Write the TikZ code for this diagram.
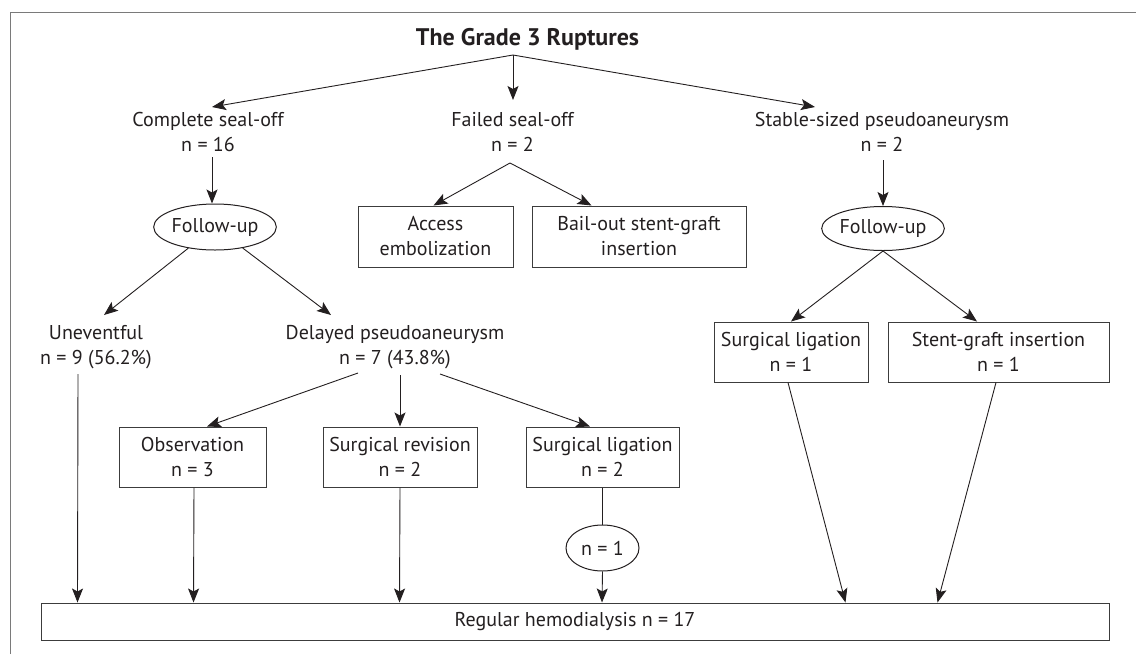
\documentclass[tikz,border=0pt]{standalone}
\usepackage{fontspec}
\setmainfont{PT Sans}
\usetikzlibrary{arrows.meta,calc,shapes.geometric}
\definecolor{txtcol}{HTML}{231F20}
\definecolor{linecol}{HTML}{231F20}
\definecolor{boxcol}{HTML}{3C3C3C}
\definecolor{framecol}{HTML}{7A7A7A}
\begin{document}
\begin{tikzpicture}[x=1pt,y=-1pt,
  font=\fontsize{20}{25}\selectfont,
  every node/.style={text=txtcol},
  box/.style={draw=boxcol,line width=1pt,rectangle,inner sep=0pt,align=center},
  oval/.style={draw=linecol,line width=1pt,ellipse,inner sep=0pt},
  lbl/.style={inner sep=0pt,align=center},
  conn/.style={draw=linecol,line width=0.9pt},
  arr/.style={conn,-{Stealth[length=14pt,width=11pt,inset=3pt]}}
]
\useasboundingbox (0,0) rectangle (1136,654);
% frame
\draw[framecol,line width=1.2pt] (10.5,654) -- (10.5,12.5) -- (1136,12.5);

% nodes
\node[font=\fontsize{24}{25}\selectfont\bfseries] (title) at (527.5,39) {The Grade 3 Ruptures};
\coordinate (root) at (513,55);
\node[lbl] (cso) at (208,132) {Complete seal-off\\n = 16};
\node[lbl] (fso) at (512.5,132) {Failed seal-off\\n = 2};
\node[lbl] (ssp) at (882,132) {Stable-sized pseudoaneurysm\\n = 2};
\node[oval,minimum width=116pt,minimum height=46pt] (fu1) at (215,227) {Follow-up};
\node[box,minimum width=155pt,minimum height=61pt] (ae) at (435.5,236.5) {Access\\embolization};
\node[box,minimum width=214pt,minimum height=61pt] (bo) at (639,236.5) {Bail-out stent-graft\\insertion};
\node[oval,minimum width=118pt,minimum height=44pt] (fu2) at (883,228.5) {Follow-up};
\node[lbl] (unev) at (96,347.5) {Uneventful\\n = 9 (56.2\%)};
\node[lbl] (dp) at (395,347.5) {Delayed pseudoaneurysm\\n = 7 (43.8\%)};
\node[box,minimum width=154pt,minimum height=60pt] (sl2) at (791,352) {Surgical ligation\\n = 1};
\node[box,minimum width=221pt,minimum height=60pt] (sg) at (998.5,352) {Stent-graft insertion\\n = 1};
\node[box,minimum width=147pt,minimum height=60pt] (obs) at (192.5,457) {Observation\\n = 3};
\node[box,minimum width=154pt,minimum height=60pt] (sr) at (400,457) {Surgical revision\\n = 2};
\node[box,minimum width=153pt,minimum height=60pt] (sl1) at (602.5,457) {Surgical ligation\\n = 2};
\node[oval,minimum width=73pt,minimum height=46pt] (n1) at (602.5,548) {n = 1};
\node[box,minimum width=1068pt,minimum height=37pt] (reg) at (575,621.5) {Regular hemodialysis n = 17};

% connectors
\draw[arr] (root) -- ($(cso)+(4,-25)$);
\draw[arr] (root) -- ($(fso)+(0.5,-32)$);
\draw[arr] (root) -- ($(ssp)+(-67,-25)$);
\draw[arr] ($(cso)+(4,25)$) -- ($(fu1.north)+(-3,0)$);
\draw[arr] ($(fso)+(-2.5,31)$) -- ($(ae.north)+(-2,0)$);
\draw[arr] ($(fso)+(-2.5,31)$) -- ($(bo.north west)+(60,0)$);
\draw[arr] ($(ssp)+(1,28)$) -- (fu2.north);
\draw[arr] (fu1) -- ($(unev)+(8,-32.5)$);
\draw[arr] (fu1) -- ($(dp)+(-64,-32.5)$);
\draw[arr] (fu2.south) -- (sl2.north);
\draw[arr] (fu2.south) -- ($(sg.north)+(-21.5,0)$);
\draw[arr] ($(dp)+(-37,25.5)$) -- ($(obs.north)+(14.5,0)$);
\draw[arr] ($(dp)+(5,27.5)$) -- (sr.north);
\draw[arr] ($(dp)+(45,26.5)$) -- ($(sl1.north)+(-12.5,0)$);
\draw[arr] ($(unev)+(-18,26.5)$) -- ($(reg.north west)+(37,0)$);
\draw[arr] ($(obs.south)+(1.5,0)$) -- ($(reg.north west)+(153,0)$);
\draw[arr] (sr.south) -- ($(reg.north west)+(359,0)$);
\draw[conn] (sl1.south) -- (n1.north);
\draw[arr] (n1.south) -- ($(reg.north west)+(561.5,0)$);
\draw[arr] ($(sl2.south)+(-3,0)$) -- ($(reg.north west)+(805,0)$);
\draw[arr] ($(sg.south)+(-2.5,0)$) -- ($(reg.north west)+(897,0)$);
\end{tikzpicture}
\end{document}
